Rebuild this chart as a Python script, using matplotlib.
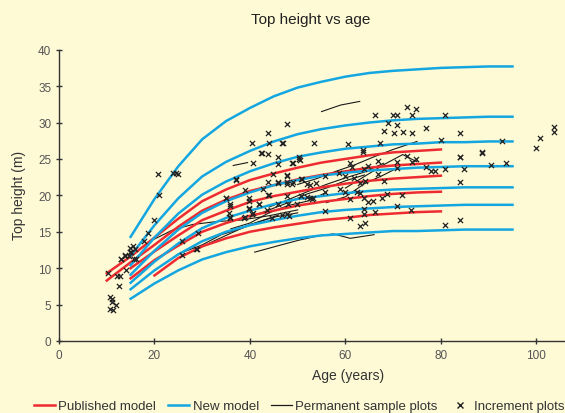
import matplotlib.pyplot as plt
from matplotlib.lines import Line2D

plt.rcParams['font.family'] = ['Liberation Sans', 'DejaVu Sans']

# new model (blue) curves, ages 15..95
blue_ages = [15, 20, 25, 30, 35, 40, 45, 50, 55, 60, 65, 70, 75, 80, 85, 90, 95]
blue_curves = [
    [14.3, 19.5, 24.0, 27.7, 30.2, 32.0, 33.6, 34.8, 35.6, 36.3, 36.8, 37.1, 37.3, 37.5, 37.6, 37.7, 37.7],
    [11.7, 15.9, 19.6, 22.6, 24.6, 26.1, 27.4, 28.4, 29.1, 29.6, 30.0, 30.3, 30.5, 30.6, 30.7, 30.8, 30.8],
    [10.4, 14.2, 17.5, 20.1, 21.9, 23.3, 24.4, 25.3, 25.9, 26.4, 26.7, 27.0, 27.1, 27.3, 27.3, 27.4, 27.4],
    [9.1, 12.4, 15.3, 17.6, 19.2, 20.4, 21.4, 22.1, 22.7, 23.1, 23.4, 23.6, 23.8, 23.9, 24.0, 24.0, 24.0],
    [8.0, 10.9, 13.4, 15.5, 16.9, 17.9, 18.8, 19.5, 19.9, 20.3, 20.6, 20.8, 20.9, 21.0, 21.1, 21.1, 21.1],
    [7.1, 9.7, 11.9, 13.7, 15.0, 15.9, 16.6, 17.2, 17.7, 18.0, 18.2, 18.4, 18.5, 18.6, 18.7, 18.7, 18.7],
    [5.8, 7.9, 9.7, 11.2, 12.2, 13.0, 13.6, 14.1, 14.5, 14.7, 14.9, 15.1, 15.1, 15.2, 15.3, 15.3, 15.3],
]

# published model (red) curves
red_ages = [
    [10, 15, 20, 25, 30, 35, 40, 45, 50, 55, 60, 65, 70, 75, 80],
    [10, 15, 20, 25, 30, 35, 40, 45, 50, 55, 60, 65, 70, 75, 80],
    [15, 20, 25, 30, 35, 40, 45, 50, 55, 60, 65, 70, 75, 80],
    [15, 20, 25, 30, 35, 40, 45, 50, 55, 60, 65, 70, 75, 80],
    [20, 25, 30, 35, 40, 45, 50, 55, 60, 65, 70, 75, 80],
]
red_curves = [
    [9.3, 11.6, 14.2, 16.8, 19.2, 20.8, 22.1, 23.0, 23.8, 24.5, 25.0, 25.5, 25.9, 26.1, 26.3],
    [8.3, 10.8, 13.2, 15.7, 17.9, 19.4, 20.6, 21.4, 22.2, 22.8, 23.3, 23.8, 24.1, 24.3, 24.5],
    [10.0, 12.3, 14.5, 16.6, 17.9, 19.1, 19.9, 20.5, 21.1, 21.6, 22.0, 22.3, 22.5, 22.7],
    [8.6, 11.1, 13.1, 15.0, 16.2, 17.2, 17.9, 18.6, 19.1, 19.5, 19.9, 20.2, 20.4, 20.5],
    [9.0, 11.4, 13.0, 14.1, 15.0, 15.6, 16.1, 16.6, 16.9, 17.3, 17.5, 17.7, 17.8],
]

# permanent sample plots (thin black lines)
psp_ages = [
    [20, 24, 28, 33, 38, 44, 50],
    [26, 29, 32, 36, 40, 45, 50],
    [26, 30, 34, 38, 42, 46],
    [36, 40, 44, 48, 52, 56],
    [40, 44, 48, 52, 56, 60, 64],
    [44, 48, 52, 56, 60, 64, 68],
    [36.5, 39.5],
    [55, 59, 63],
    [50, 54, 58, 62, 66, 70, 75],
    [41, 46, 50, 54, 57.5, 61, 66],
    [56, 60, 64, 68, 71],
    [60, 64, 68, 72, 75],
]
psp_heights = [
    [14.0, 15.3, 16.0, 16.4, 16.6, 17.2, 18.0],
    [11.8, 12.6, 13.6, 14.8, 16.0, 17.0, 17.6],
    [12.2, 13.2, 14.6, 15.4, 16.4, 17.3],
    [15.4, 16.2, 17.6, 18.6, 19.2, 20.4],
    [17.0, 18.0, 19.0, 20.2, 21.0, 22.0, 22.8],
    [18.4, 19.4, 20.5, 21.5, 22.4, 23.2, 24.4],
    [24.1, 24.5],
    [31.5, 32.4, 32.9],
    [21.5, 22.3, 23.3, 24.2, 25.3, 26.3, 27.4],
    [12.2, 13.1, 13.8, 14.4, 14.7, 14.1, 14.6],
    [19.0, 19.8, 21.6, 22.8, 23.8],
    [21.0, 22.6, 24.2, 25.6, 24.6],
]

# increment plots (crosses)
inc_age = [10.3, 10.7, 11.0, 10.7, 11.3, 12.0, 11.1, 12.1, 12.8, 12.6, 12.9, 13.8, 14.0, 13.0,
           14.9, 14.7, 15.4, 15.9, 15.7, 15.0, 16.1, 14.9, 17.8, 18.7, 19.9, 21.0, 20.8, 23.8,
           24.6, 25.0, 25.7, 25.8, 28.9, 29.1, 28.7, 35.0, 35.8, 35.7, 35.8, 37.1, 39.0, 39.0,
           39.7, 39.9, 39.9, 40.7, 40.7, 40.4, 42.5, 43.7, 43.7, 43.9, 42.8, 43.7, 43.9, 44.9,
           45.8, 45.8, 41.8, 43.5, 45.8, 45.8, 47.7, 46.9, 53.5, 60.5, 66.1, 67.2, 69.0, 68.0,
           70.0, 70.8, 70.9, 70.1, 72.0, 72.9, 73.9, 74.8, 73.9, 76.9, 80.8, 80.0, 83.9, 83.9,
           83.9, 83.9, 80.8, 84.8, 80.8, 76.9, 77.9, 78.8, 88.7, 88.7, 90.6, 92.7, 93.6, 99.9,
           100.8, 103.8, 103.8, 74.8, 73.9, 72.9, 70.8, 70.8, 63.7, 60.9, 61.4, 66.8, 66.9, 68.0,
           64.8, 63.8, 60.0, 61.7, 64.2, 63.1, 58.6, 55.8, 53.9, 51.9, 50.7, 49.0, 50.2, 47.7,
           47.7, 49.0, 47.7, 50.7, 52.5, 53.3, 55.8, 58.9, 60.0, 61.0, 62.4, 63.1, 63.8, 64.8,
           65.7, 63.8, 66.1, 67.6, 68.8, 71.8, 70.8, 73.8, 60.9, 63.1, 64.2, 63.8, 55.8, 47.7,
           46.8, 42.3, 48.8, 50.4, 37.0, 47.8, 45.8, 47.8, 48.8, 50.9, 34.9, 35.8, 39.7, 41.8,
           43.7, 47.9, 35.8, 38.8, 40.5, 44.7, 46.8, 48.1, 49.8, 51.9, 52.6, 53.0, 83.9, 50.3,
           13.8, 63.7]
inc_h = [9.4, 6.0, 5.3, 4.4, 4.2, 4.9, 5.8, 8.9, 8.9, 7.5, 11.2, 11.7, 9.8, 11.3,
         12.8, 11.7, 13.1, 12.6, 11.2, 12.2, 11.2, 12.2, 13.7, 14.8, 16.6, 20.0, 23.0, 23.1,
         23.1, 23.0, 13.7, 11.8, 12.7, 14.8, 12.6, 19.6, 18.6, 17.6, 17.0, 22.2, 20.8, 17.0,
         19.7, 19.2, 18.1, 17.6, 24.5, 27.2, 25.8, 25.7, 28.5, 27.2, 20.9, 21.8, 20.0, 23.0,
         25.2, 24.3, 18.8, 18.0, 18.8, 21.7, 29.8, 27.2, 27.2, 27.0, 31.0, 27.2, 30.0, 28.9,
         31.1, 31.1, 29.7, 28.5, 28.7, 32.2, 31.1, 31.9, 28.5, 29.2, 31.1, 27.6, 28.5, 25.2,
         21.9, 16.6, 15.9, 23.6, 23.6, 23.9, 23.3, 23.3, 25.8, 25.9, 24.2, 27.4, 24.4, 26.5,
         27.9, 29.4, 28.7, 25.0, 24.6, 25.4, 24.6, 23.7, 25.9, 24.5, 23.9, 24.7, 23.0, 22.0,
         24.0, 23.6, 22.6, 22.4, 22.0, 21.7, 23.1, 22.6, 21.7, 21.5, 22.2, 24.5, 25.0, 22.7,
         21.8, 21.8, 19.9, 19.9, 19.7, 19.7, 20.5, 20.9, 20.4, 19.5, 20.5, 20.3, 19.7, 19.1,
         19.2, 18.1, 17.7, 19.7, 20.2, 20.0, 18.5, 18.0, 16.9, 15.8, 16.2, 17.4, 17.9, 17.4,
         27.2, 25.8, 24.5, 24.9, 22.1, 22.8, 21.8, 21.6, 21.6, 22.3, 19.7, 18.8, 18.2, 18.8,
         20.0, 18.8, 16.9, 16.9, 17.5, 16.9, 17.3, 17.2, 18.8, 19.8, 21.4, 19.5, 25.3, 25.2,
         11.8, 26.2]

bg = '#fefad6'
red = '#ee2b30'
blue = '#14a6e0'

fig = plt.figure(figsize=(5.65, 4.14), dpi=100, facecolor=bg)
ax = fig.add_axes([59 / 565, 72 / 414, 506 / 565, 291.3 / 414])
ax.set_facecolor(bg)

for a, h in zip(psp_ages, psp_heights):
    ax.plot(a, h, color='#1a1a1a', lw=0.8, zorder=2)
for a, h in zip(red_ages, red_curves):
    ax.plot(a, h, color=red, lw=1.8, zorder=3)
for h in blue_curves:
    ax.plot(blue_ages, h, color=blue, lw=1.8, zorder=3)
ax.scatter(inc_age, inc_h, marker='x', s=14, color='#222222', linewidths=0.9, zorder=4)

ax.set_xlim(0, 106)
ax.set_ylim(0, 40)
ax.set_xticks([0, 20, 40, 60, 80, 100])
ax.set_yticks(range(0, 41, 5))
for s in ['top', 'right']:
    ax.spines[s].set_visible(False)
for s in ['left', 'bottom']:
    ax.spines[s].set_color('#333333')
    ax.spines[s].set_linewidth(1.0)
ax.tick_params(direction='inout', length=5, width=1, color='#333333',
               labelcolor='#555555', labelsize=8.5, pad=3)

fig.text(311 / 565, 1 - 20 / 414, 'Top height vs age', ha='center', va='center',
         fontsize=11, color='#222222')
fig.text(19 / 565, 1 - 195 / 414, 'Top height (m)', ha='center', va='center',
         rotation=90, fontsize=10, color='#333333')
fig.text(348 / 565, 1 - 376 / 414, 'Age (years)', ha='center', va='center',
         fontsize=10, color='#333333')

handles = [
    Line2D([], [], color=red, lw=1.8),
    Line2D([], [], color=blue, lw=1.8),
    Line2D([], [], color='#1a1a1a', lw=0.9),
    Line2D([], [], color='#222222', marker='x', ls='none', markersize=4, mew=1.0),
]
labels = ['Published model', 'New model', 'Permanent sample plots', 'Increment plots']
fig.legend(handles, labels, loc='center left', bbox_to_anchor=(34 / 565, 7 / 414),
           ncol=4, frameon=False, fontsize=9.5, handlelength=1.6, handletextpad=0.25,
           columnspacing=0.9, borderaxespad=0, borderpad=0, labelcolor='#333333')

fig.savefig('out.png', dpi=100, facecolor=bg)
